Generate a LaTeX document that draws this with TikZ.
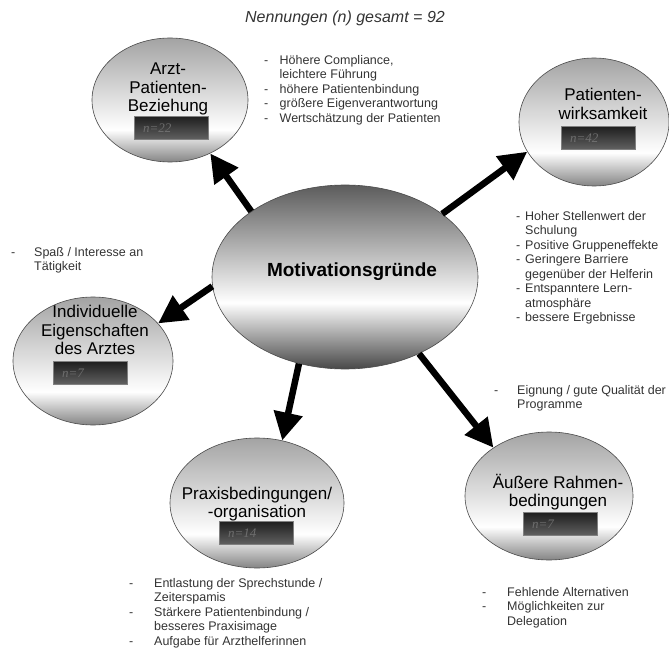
\documentclass[tikz,border=0pt]{standalone}
\usepackage{fontspec}
\setmainfont{Liberation Sans}
\newfontfamily\serifNum{Liberation Serif}
\usepackage{xcolor}
\usepackage{tikz}
\usetikzlibrary{shapes.geometric, arrows.meta}
\definecolor{rimColor}{HTML}{4A4A4A}
\definecolor{numColor}{HTML}{6E6E6E}
\definecolor{bulletColor}{HTML}{333333}
\pgfdeclareverticalshading{mainShade}{100bp}{color(0bp)=(black!72); color(25bp)=(black!72); color(43bp)=(white); color(75bp)=(black!64); color(100bp)=(black!64)}
\pgfdeclareverticalshading{bubbleShade}{100bp}{color(0bp)=(black!48); color(25bp)=(black!48); color(38bp)=(white); color(75bp)=(black!36); color(100bp)=(black!36)}

\begin{document}
\begin{tikzpicture}[x=1pt, y=-1pt,
    bubble/.style={ellipse, draw=rimColor, semithick, shading=bubbleShade, inner sep=0pt},
    bubbleText/.style={align=center, inner sep=0pt, font=\fontsize{17}{18.5}\selectfont},
    numBox/.style={draw=black!50, top color=black!88, bottom color=black!62, minimum width=74pt, minimum height=23pt, inner sep=0pt},
    numText/.style={anchor=west, inner sep=0pt, text=numColor, font=\fontsize{13}{15}\selectfont\serifNum\itshape},
    bullets/.style={anchor=north west, inner sep=0pt, text=bulletColor, font=\fontsize{12.5}{14.5}\selectfont},
    bigArrow/.style={line width=6.5pt, -{Triangle[length=28pt, width=28pt]}}]
    \useasboundingbox (0,0) rectangle (669,652);

    \node[font=\fontsize{16}{19}\selectfont\itshape, text=black!80] (title) at (345,18) {Nennungen (n) gesamt = 92};

    % centre
    \node[ellipse, draw=rimColor, semithick, shading=mainShade, minimum width=266pt, minimum height=184pt] (motiv) at (345,277) {};
    \node[font=\fontsize{19}{22}\selectfont\bfseries, inner sep=0pt] (motivText) at (352,272) {Motivationsgründe};

    % the five reasons
    \node[bubble, minimum width=156pt, minimum height=124pt] (arzt) at (170,100) {};
    \node[bubbleText] (arztText) at (168,89) {Arzt-\\Patienten-\\Beziehung};
    \node[numBox] (arztBox) at (171,128) {};
    \node[numText] (arztN) at ([xshift=9pt]arztBox.west) {n=22};

    \node[bubble, minimum width=150pt, minimum height=128pt] (wirk) at (594,122) {};
    \node[bubbleText] (wirkText) at (603,104) {Patienten-\\wirksamkeit};
    \node[numBox] (wirkBox) at (598,138) {};
    \node[numText] (wirkN) at ([xshift=9pt]wirkBox.west) {n=42};

    \node[bubble, minimum width=160pt, minimum height=128pt] (indiv) at (93,361) {};
    \node[bubbleText] (indivText) at (95,330) {Individuelle\\Eigenschaften\\des Arztes};
    \node[numBox] (indivBox) at (90,373) {};
    \node[numText] (indivN) at ([xshift=9pt]indivBox.west) {n=7};

    \node[bubble, minimum width=174pt, minimum height=130pt] (praxis) at (257,503) {};
    \node[bubbleText] (praxisText) at (257,504) {Praxisbedingungen/\\-organisation};
    \node[numBox] (praxisBox) at (256,533) {};
    \node[numText] (praxisN) at ([xshift=9pt]praxisBox.west) {n=14};

    \node[bubble, minimum width=168pt, minimum height=128pt] (rahmen) at (549,496) {};
    \node[bubbleText] (rahmenText) at (558,492) {Äußere Rahmen-\\bedingungen};
    \node[numBox] (rahmenBox) at (560,524) {};
    \node[numText] (rahmenN) at ([xshift=9pt]rahmenBox.west) {n=7};

    \draw[bigArrow] (motiv.145) -- (arzt.-53);
    \draw[bigArrow] (motiv.33) -- (wirk.-156);
    \draw[bigArrow] (motiv.184) -- (indiv.30);
    \draw[bigArrow] (motiv.-118) -- (praxis.68);
    \draw[bigArrow] (motiv.-46) -- (rahmen.139);

    % comments next to the bubbles
    \node[bullets] (arztList) at (264,54) {\begin{tabular}{@{}p{15.5pt}@{}l@{}}
        - & Höhere Compliance,\\ & leichtere Führung\\
        - & höhere Patientenbindung\\
        - & größere Eigenverantwortung\\
        - & Wertschätzung der Patienten\end{tabular}};
    \node[bullets] (wirkList) at (516,210) {\begin{tabular}{@{}p{9pt}@{}l@{}}
        - & Hoher Stellenwert der\\ & Schulung\\
        - & Positive Gruppeneffekte\\
        - & Geringere Barriere\\ & gegenüber der Helferin\\
        - & Entspanntere Lern-\\ & atmosphäre\\
        - & bessere Ergebnisse\end{tabular}};
    \node[bullets] (indivList) at (11,246) {\begin{tabular}{@{}p{23pt}@{}l@{}}
        - & Spaß / Interesse an\\ & Tätigkeit\end{tabular}};
    \node[bullets] (rahmenTop) at (494,384) {\begin{tabular}{@{}p{23pt}@{}l@{}}
        - & Eignung / gute Qualität der\\ & Programme\end{tabular}};
    \node[bullets] (praxisList) at (129,577) {\begin{tabular}{@{}p{25pt}@{}l@{}}
        - & Entlastung der Sprechstunde /\\ & Zeiterspamis\\
        - & Stärkere Patientenbindung /\\ & besseres Praxisimage\\
        - & Aufgabe für Arzthelferinnen\end{tabular}};
    \node[bullets] (rahmenList) at (482,586) {\begin{tabular}{@{}p{25pt}@{}l@{}}
        - & Fehlende Alternativen\\
        - & Möglichkeiten zur\\ & Delegation\end{tabular}};
\end{tikzpicture}
\end{document}
